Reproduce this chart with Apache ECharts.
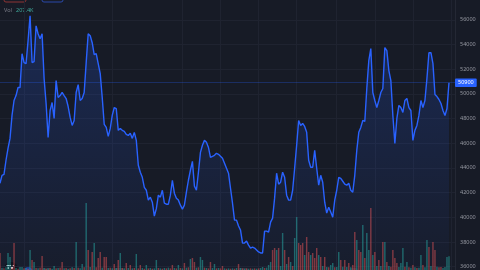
<!DOCTYPE html>
<html><head><meta charset="utf-8">
<script src="https://cdn.jsdelivr.net/npm/echarts@6/dist/echarts.min.js"></script>
<style>html,body{margin:0;padding:0;background:#171b26;overflow:hidden}#c{width:480px;height:270px}</style>
</head><body><div id="c"></div>
<script>
const prices = [
42760,43400,43480,44620,45580,46390,48250,49460,49860,50510,50510,53250,52530,52450,54300,
56320,52530,52610,55510,54870,54470,54870,51240,49220,46470,48650,49300,48010,51070,49700,
49860,50110,49860,49620,48970,48090,47440,47840,50110,50750,49460,49620,50110,52530,54870,
54710,54140,53170,53250,52450,51640,49700,47520,47280,46550,47200,48250,48890,48810,47040,
47200,47040,46960,46710,46630,46800,46390,46880,46230,44210,43650,43240,42430,42190,41390,
41630,41220,40100,40700,41790,41630,42190,41140,41060,41060,41790,43000,41950,41550,41390,
40980,40660,40980,42030,43000,43810,44530,42520,42190,43650,45260,45830,46230,46070,45660,
44860,44940,45020,45180,45100,44940,44780,44370,43970,43570,42350,41140,39770,39770,39290,
38960,37910,37910,38070,37750,37510,37590,37510,37350,37190,37110,37110,38880,38880,38800,
39610,39930,41550,43570,42680,42840,43650,43240,41790,41390,41390,42190,43970,45830,47840,
47440,47600,47360,46880,44620,44050,44050,45420,43970,42600,43400,42840,41220,40340,40820,
40420,40010,41390,42190,43240,43160,42920,42680,42600,42760,42190,42030,43400,45420,46880,
47280,47840,47760,50430,52690,53660,50110,49460,48890,49460,50110,50430,53740,53500,51880,
51070,48250,45990,48010,49060,48890,48490,49460,49620,48890,48650,46230,47040,47440,48250,
49460,48890,49460,51240,53330,53330,52450,49940,49780,49540,49220,48650,48250,48810,50900
];
// volume in thousands
const volumes = [
255,30,25,40,255,195,35,405,30,20,45,45,25,30,20,
300,150,120,30,25,35,210,30,20,25,30,20,60,25,30,
35,120,25,30,20,25,40,30,420,35,25,90,40,1005,300,
45,270,405,40,180,270,35,195,195,30,35,25,90,30,150,
255,30,25,105,30,75,25,30,240,25,75,30,20,75,25,
30,20,25,150,30,25,20,30,25,35,25,75,30,25,75,
30,25,105,35,40,165,180,120,35,40,195,150,35,30,25,
120,30,90,25,30,25,60,25,20,25,20,25,20,30,90,
30,25,20,25,20,25,20,25,20,25,30,45,30,35,75,
120,300,330,300,330,60,555,300,90,195,120,60,480,795,405,
375,405,225,495,270,225,255,180,330,225,195,60,195,45,40,
75,105,40,45,270,150,50,150,45,105,40,75,570,450,300,
270,675,180,555,300,930,225,270,60,150,60,420,420,120,60,
50,300,180,105,45,105,330,50,120,40,35,75,40,30,35,
225,75,40,450,345,60,420,300,50,40,45,30,45,195,207.4
];
// 1 = up (teal), 0 = down (red)
const volDir = [
0,1,0,1,1,1,0,0,1,0,1,1,0,1,0,
1,0,1,0,1,0,0,1,0,1,0,1,1,0,1,
0,0,1,0,1,0,1,0,1,0,1,1,0,1,0,
1,0,1,0,0,0,1,0,0,1,0,1,0,1,0,
1,0,1,0,1,0,1,0,1,0,0,1,0,1,0,
1,0,1,1,0,1,0,1,0,1,0,0,1,0,1,
0,1,0,1,0,1,0,0,1,0,1,1,0,1,0,
0,1,1,0,1,0,0,1,0,1,0,1,0,1,0,
1,0,1,0,1,0,1,0,1,0,1,1,0,1,1,
1,0,0,1,0,1,1,0,1,0,1,0,1,1,0,
0,0,1,0,0,1,0,0,0,1,0,1,0,1,0,
1,1,0,1,1,0,1,0,1,0,1,0,0,1,0,
0,1,0,1,1,0,1,0,1,0,1,0,1,0,1,
0,0,0,0,1,1,1,0,1,0,1,0,1,0,1,
1,0,1,1,0,1,0,0,1,0,0,1,1,1,1
];
const rightPad = 3;            // empty slots after the last point
const vGridIdx = [12,56,91,110,129,148,168,187,206,225];
const yTicks = [36000,38000,40000,42000,44000,46000,48000,50000,52000,54000,56000];
const yMin = 35730, yMax = 57600;
const lastPrice = 50900;
const lastVolText = '207.4K';

const N = prices.length + rightPad;
const cats = Array.from({length: N}, (_, i) => String(i));
const priceData = prices.concat(Array(rightPad).fill(null));
const volData = volumes.map((v, i) => ({
  value: v,
  itemStyle: {color: volDir[i] ? 'rgba(38,166,154,0.55)' : 'rgba(239,83,80,0.5)'}
})).concat(Array(rightPad).fill(null));

const chart = echarts.init(document.getElementById('c'), null, {renderer: 'canvas'});
const FONT = 'Noto Sans';
chart.setOption({
  backgroundColor: '#171b26',
  animation: false,
  grid: [
    {left: 0, right: 25, top: 0, bottom: 0},
    {left: 0, right: 25, top: 170, bottom: 0}
  ],
  xAxis: [
    {type: 'category', data: cats, gridIndex: 0, boundaryGap: false,
     axisLine: {show: false}, axisTick: {show: false}, axisLabel: {show: false},
     splitLine: {show: true, interval: (i) => vGridIdx.includes(i), lineStyle: {color: '#1f2330', width: 1}}},
    {type: 'category', data: cats, gridIndex: 1, boundaryGap: false,
     axisLine: {show: false}, axisTick: {show: false}, axisLabel: {show: false}, splitLine: {show: false}}
  ],
  yAxis: [
    {type: 'value', gridIndex: 0, position: 'right', min: yMin, max: yMax,
     axisLine: {show: true, lineStyle: {color: '#242834'}},
     axisTick: {show: false, customValues: yTicks},
     axisLabel: {customValues: yTicks, color: '#9598a1', fontSize: 5.5, fontFamily: FONT, margin: 5,
       formatter: (v) => String(v)},
     splitLine: {show: true, lineStyle: {color: '#1f2330', width: 1}}},
    {type: 'value', gridIndex: 1, min: 0, max: 1500, show: false, splitLine: {show: false}}
  ],
  series: [
    {type: 'bar', xAxisIndex: 1, yAxisIndex: 1, data: volData, barWidth: '72%', z: 1},
    {type: 'line', xAxisIndex: 0, yAxisIndex: 0, data: priceData, showSymbol: false,
     lineStyle: {color: '#2962ff', width: 1.4}, z: 3,
     areaStyle: {origin: 'start', color: new echarts.graphic.LinearGradient(0, 0, 0, 1, [
       {offset: 0, color: 'rgba(41,98,255,0.30)'},
       {offset: 1, color: 'rgba(41,98,255,0.04)'}
     ])},
     markLine: {silent: true, symbol: 'none',
       lineStyle: {color: 'rgba(41,98,255,0.28)', type: 'solid', width: 1},
       label: {show: true, position: 'end', distance: 0, formatter: String(lastPrice),
         color: '#ffffff', backgroundColor: '#2962ff', fontSize: 5.5, fontFamily: FONT,
         padding: [1.5, 3, 1, 3], borderRadius: 1},
       data: [{yAxis: lastPrice}]}
    }
  ],
  graphic: [
    {type: 'rect', shape: {x: 4, y: -8, width: 22, height: 10, r: 2}, style: {fill: 'transparent', stroke: '#8e3434', lineWidth: 1}},
    {type: 'rect', shape: {x: 42, y: -8, width: 21, height: 10, r: 2}, style: {fill: 'transparent', stroke: '#2a48a8', lineWidth: 1}},
    {type: 'text', left: 4, top: 7, style: {text: 'Vol', fill: '#787b86', fontSize: 5.5, fontFamily: FONT}},
    {type: 'text', left: 16, top: 7, style: {text: lastVolText, fill: '#3fa99b', fontSize: 5.5, fontFamily: FONT}},
    {type: 'circle', shape: {cx: 11, cy: 269, r: 7}, style: {fill: '#0e1017'}},
    {type: 'text', left: 6.5, top: 264, style: {text: 'TV', fill: '#ffffff', fontSize: 6, fontWeight: 'bold', fontFamily: FONT}},
    {type: 'circle', shape: {cx: 28, cy: 272, r: 5}, style: {fill: '#1d3b8f'}},
    {type: 'rect', shape: {x: 42, y: 268, width: 9, height: 5, r: 2}, style: {fill: '#2a2e39'}},
    {type: 'rect', shape: {x: 114, y: 268, width: 10, height: 5, r: 2}, style: {fill: '#2a2e39'}},
    {type: 'rect', shape: {x: 238, y: 268, width: 10, height: 5, r: 2}, style: {fill: '#2a2e39'}},
    {type: 'rect', shape: {x: 350, y: 268, width: 8, height: 5, r: 2}, style: {fill: '#2a2e39'}}
  ]
});
</script>
</body></html>
